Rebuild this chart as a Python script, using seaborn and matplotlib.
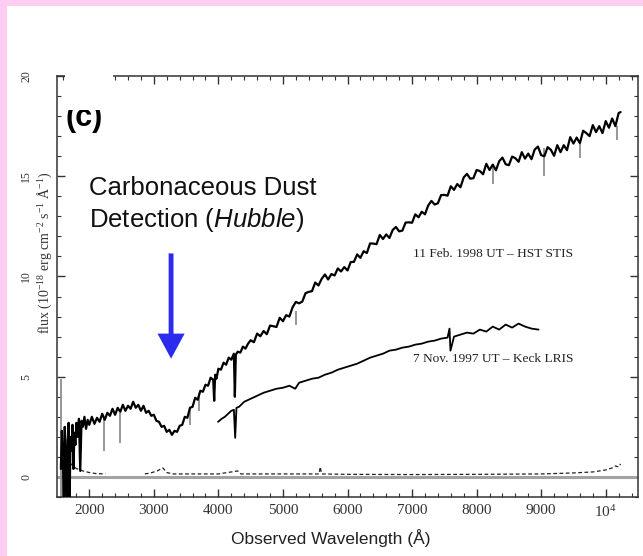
import numpy as np
import pandas as pd
import matplotlib
matplotlib.use("Agg")
import matplotlib.pyplot as plt
import seaborn as sns
from matplotlib.patches import Rectangle
from matplotlib.ticker import MultipleLocator

# ---------------- data ----------------
stis_wl = [1560, 1575, 1590, 1605, 1620, 1635, 1650, 1665, 1680, 1695, 1710, 1725, 1740, 1755,
           1770, 1785, 1800, 1820, 1840, 1860, 1880, 1900, 1925, 1950, 1975, 2000,
           2040, 2080, 2120, 2160, 2200, 2240, 2280, 2320, 2360, 2400, 2440, 2480, 2520, 2560,
           2600, 2640, 2680, 2720, 2760, 2800, 2840, 2880, 2920, 2960, 3000, 3040, 3080, 3120,
           3160, 3200, 3240, 3280, 3320, 3360, 3400, 3440, 3480, 3520, 3560, 3600, 3640, 3680,
           3720, 3760, 3800, 3840, 3880, 3920, 3935, 3950, 3970, 4000, 4040, 4080, 4120, 4160,
           4200, 4240, 4255, 4270, 4300, 4340, 4380, 4420, 4460, 4500, 4550, 4600, 4650, 4700,
           4750, 4800, 4850, 4900, 4950, 5000, 5050, 5100, 5150, 5200, 5250, 5300, 5350, 5400,
           5450, 5500, 5550, 5600, 5650, 5700, 5750, 5800, 5850, 5900, 5950, 6000, 6050, 6100,
           6150, 6200, 6250, 6300, 6350, 6400, 6450, 6500, 6550, 6600, 6650, 6700, 6750, 6800,
           6850, 6900, 6950, 7000, 7050, 7100, 7150, 7200, 7250, 7300, 7350, 7400, 7450, 7500,
           7550, 7600, 7650, 7700, 7750, 7800, 7850, 7900, 7950, 8000, 8050, 8100, 8150, 8200,
           8250, 8300, 8350, 8400, 8450, 8500, 8550, 8600, 8650, 8700, 8750, 8800, 8850, 8900,
           8950, 9000, 9050, 9100, 9150, 9200, 9250, 9300, 9350, 9400, 9450, 9500, 9550, 9600,
           9650, 9700, 9750, 9800, 9850, 9900, 9950, 10000, 10050, 10100, 10150, 10200, 10230]
stis_flux = [0.4, 2.3, 1.1, -1.4, 2.5, 0.9, -1.6, 1.8, 2.7, -1.2, 2.0, 1.3, 2.6, 0.4,
             2.2, 1.6, 2.7, 2.0, 2.9, 0.3, 2.8, 2.5, 3.0, 2.4, 2.85, 2.6,
             3.0, 2.65, 2.95, 2.75, 3.15, 2.85, 3.2, 3.05, 3.4, 3.1, 3.45, 3.25, 3.6, 3.3,
             3.55, 3.4, 3.75, 3.45, 3.6, 3.3, 3.55, 3.2, 3.3, 3.05, 3.1, 2.8, 2.75, 2.5,
             2.55, 2.25, 2.35, 2.1, 2.3, 2.25, 2.55, 2.6, 3.0, 2.95, 3.45, 3.5, 3.95, 3.85,
             4.3, 4.25, 4.6, 4.55, 4.95, 4.85, 3.8, 5.1, 4.9, 5.4, 5.35, 5.7, 5.6, 5.95,
             5.85, 6.15, 4.0, 6.1, 6.25, 6.2, 6.5, 6.4, 6.65, 6.82, 6.72, 7.15, 7.02, 7.28,
             7.12, 7.55, 7.52, 7.48, 7.94, 7.77, 8.07, 8.0, 8.47, 8.73, 8.66, 8.75, 9.17, 9.23,
             9.27, 9.7, 9.55, 9.88, 10.1, 9.85, 10.12, 10.05, 10.4, 10.25, 10.47, 10.3, 10.72, 10.73,
             11.1, 10.93, 11.26, 11.17, 11.65, 11.64, 11.61, 12.07, 11.87, 12.1, 11.92, 12.32, 12.47, 12.25,
             12.29, 12.69, 12.7, 12.68, 13.1, 12.95, 13.23, 13.1, 13.54, 13.77, 13.59, 13.65, 14.06, 14.07,
             14.03, 14.5, 14.32, 14.61, 14.45, 14.94, 15.12, 14.88, 14.9, 15.31, 15.26, 15.1, 15.62, 15.31,
             15.58, 15.3, 15.75, 15.93, 15.6, 15.55, 15.98, 15.9, 15.72, 16.2, 15.88, 16.13, 15.85, 16.33,
             16.48, 16.05, 16.0, 16.45, 16.32, 16.02, 16.55, 16.2, 16.55, 16.3, 16.95, 16.63, 16.93, 16.65,
             17.27, 17.15, 17.0, 17.55, 17.2, 17.5, 17.15, 17.75, 17.42, 17.88, 17.5, 18.15, 18.2]

keck_wl = [3995, 4050, 4100, 4150, 4200, 4240, 4260, 4280, 4320, 4400, 4500, 4600, 4700, 4800,
           4900, 5000, 5100, 5190, 5250, 5350, 5450, 5550, 5650, 5750, 5850, 5950, 6050, 6150,
           6250, 6350, 6450, 6550, 6650, 6750, 6850, 6950, 7050, 7150, 7250, 7350, 7450, 7550,
           7580, 7595, 7650, 7750, 7850, 7950, 8050, 8150, 8250, 8350, 8450, 8550, 8650, 8750,
           8850, 8960]
keck_flux = [2.75, 2.9, 3.0, 3.15, 3.3, 3.35, 1.95, 3.45, 3.5, 3.75, 3.9, 4.05, 4.2, 4.3,
             4.4, 4.45, 4.55, 4.4, 4.7, 4.8, 4.9, 4.95, 5.1, 5.2, 5.35, 5.45, 5.55, 5.65,
             5.8, 5.95, 6.05, 6.15, 6.3, 6.35, 6.45, 6.5, 6.6, 6.65, 6.75, 6.8, 6.9, 6.95,
             7.4, 6.3, 7.0, 7.1, 7.2, 7.15, 7.35, 7.25, 7.5, 7.35, 7.6, 7.45, 7.65, 7.5,
             7.4, 7.35]

err_seg1_wl = [1600, 1650, 1700, 1750, 1800, 1900, 2000, 2100, 2250]
err_seg1_flux = [1.2, 0.95, 0.7, 0.55, 0.42, 0.3, 0.22, 0.17, 0.15]
err_seg2_wl = [2860, 2950, 3050, 3140, 3200, 3300, 3600, 4000, 4300, 4350, 4600, 5000,
               5560, 5577, 5600, 6000, 7000, 8000, 9000, 9500, 9800, 10000, 10100, 10150,
               10200, 10230]
err_seg2_flux = [0.15, 0.2, 0.3, 0.45, 0.22, 0.15, 0.15, 0.15, 0.3, 0.15, 0.15, 0.15,
                 0.15, 0.5, 0.15, 0.13, 0.12, 0.13, 0.15, 0.2, 0.25, 0.35, 0.45, 0.55,
                 0.5, 0.65]

gray_wl = [1555, 2230, 2480, 3560, 3700, 5200, 8250, 9050, 9600, 10180]
gray_lo = [-1.0, 1.3, 1.7, 2.6, 3.3, 7.6, 14.6, 15.0, 15.9, 16.8]
gray_hi = [4.9, 2.9, 3.2, 3.4, 4.2, 8.3, 15.6, 16.4, 16.6, 17.5]

xtick_values = [2000, 3000, 4000, 5000, 6000, 7000, 8000, 9000, 10000]
xtick_labels = ["2000", "3000", "4000", "5000", "6000", "7000", "8000", "9000", "10$^4$"]
ytick_values = [0, 5, 10, 15, 20]
ytick_labels = ["0", "5", "10", "15", "20"]

# ---------------- style ----------------
sns.set_style("ticks")
plt.rcParams["font.family"] = ["Liberation Sans", "DejaVu Sans"]
plt.rcParams["mathtext.fontset"] = "custom"
plt.rcParams["mathtext.it"] = "Liberation Sans:italic"
plt.rcParams["mathtext.rm"] = "Liberation Serif"
plt.rcParams["mathtext.default"] = "regular"

W, H = 643, 556
fig = plt.figure(figsize=(W / 100, H / 100), dpi=100, facecolor="#ffccf2")
fig.add_artist(Rectangle((7 / W, 0), 1, (H - 6) / H, transform=fig.transFigure,
                         facecolor="white", edgecolor="none", zorder=-5))
L, R, T, B = 57, 638, 76, 497
ax = fig.add_axes([L / W, 1 - B / H, (R - L) / W, (B - T) / H])
ax.set_facecolor("white")

df_stis = pd.DataFrame({"wl": stis_wl, "flux": stis_flux})
df_keck = pd.DataFrame({"wl": keck_wl, "flux": keck_flux})
df_err = pd.DataFrame({
    "wl": err_seg1_wl + err_seg2_wl,
    "flux": err_seg1_flux + err_seg2_flux,
    "seg": [1] * len(err_seg1_wl) + [2] * len(err_seg2_wl),
})

ax.axhline(0, color="#a3a3a3", lw=2.2, zorder=1)
ax.vlines(gray_wl, gray_lo, gray_hi, color="#8f8f8f", lw=1.3, zorder=2)
sns.lineplot(data=df_err, x="wl", y="flux", units="seg", estimator=None, sort=False,
             color="#222222", lw=0.9, ls=(0, (3, 2)), ax=ax, zorder=3)
sns.lineplot(data=df_keck, x="wl", y="flux", estimator=None, sort=False,
             color="black", lw=1.3, ax=ax, zorder=4)
sns.lineplot(data=df_stis, x="wl", y="flux", estimator=None, sort=False,
             color="black", lw=1.6, ax=ax, zorder=5)

ax.set_xlim(1500, 10500)
ax.set_ylim(-1, 20)

ax.set_xticks(xtick_values)
ax.set_xticklabels(xtick_labels)
ax.xaxis.set_minor_locator(MultipleLocator(200))
ax.set_yticks(ytick_values)
ax.set_yticklabels(ytick_labels, rotation=90, va="center")
ax.yaxis.set_minor_locator(MultipleLocator(1))
ax.tick_params(which="both", direction="in", top=True, right=True, color="#333333")
ax.tick_params(which="major", length=6, width=1.0)
ax.tick_params(which="minor", length=3, width=0.8)
ax.tick_params(axis="x", labelsize=11, pad=5, labelcolor="#333333")
ax.tick_params(axis="y", labelsize=8.5, pad=18, labelcolor="#333333")
for lab in ax.get_xticklabels() + ax.get_yticklabels():
    lab.set_fontfamily("Liberation Serif")
for s in ax.spines.values():
    s.set_color("#333333")
    s.set_linewidth(1.1)

ax.set_xlabel("Observed Wavelength (Å)", fontsize=12.5, family="Liberation Sans", color="#222222")
ax.xaxis.set_label_coords((331 - L) / (R - L), (B - 529) / (B - T))
ax.xaxis.label.set_va("top")
ax.set_ylabel(r"flux (10$^{-18}$ erg cm$^{-2}$ s$^{-1}$ Å$^{-1}$)", fontsize=10,
              family="Liberation Serif", color="#333333")
ax.yaxis.set_label_coords((54 - L) / (R - L), (B - 253) / (B - T))

# annotations
ax.text(1996, 14.05, "Carbonaceous Dust", fontsize=18.5, family="Liberation Sans",
        va="baseline", ha="left", color="#111111")
ax.text(1996, 12.45, r"Detection ($\mathit{Hubble}$)", fontsize=18.5, family="Liberation Sans",
        va="baseline", ha="left", color="#111111")
ax.arrow(3267, 11.15, 0, -5.25, width=75, head_width=420, head_length=1.25,
         length_includes_head=True, color="#2b2bef", lw=0, zorder=6)
ax.text(8260, 11.1, "11 Feb. 1998 UT – HST STIS", fontsize=9.6, family="Liberation Serif",
        ha="center", va="center", color="#222222")
ax.text(8260, 5.9, "7 Nov. 1997 UT – Keck LRIS", fontsize=9.6, family="Liberation Serif",
        ha="center", va="center", color="#222222")

ax.text(1624, 17.5, "(c)", fontsize=22, fontweight="bold", family="Liberation Sans",
        va="baseline", ha="left", color="black", zorder=7)
ax.add_patch(Rectangle((1620, 18.3), 2370 - 1620, 3.0, facecolor="white", edgecolor="none",
                       clip_on=False, zorder=10))

fig.savefig("out.png", dpi=100, facecolor=fig.get_facecolor())
